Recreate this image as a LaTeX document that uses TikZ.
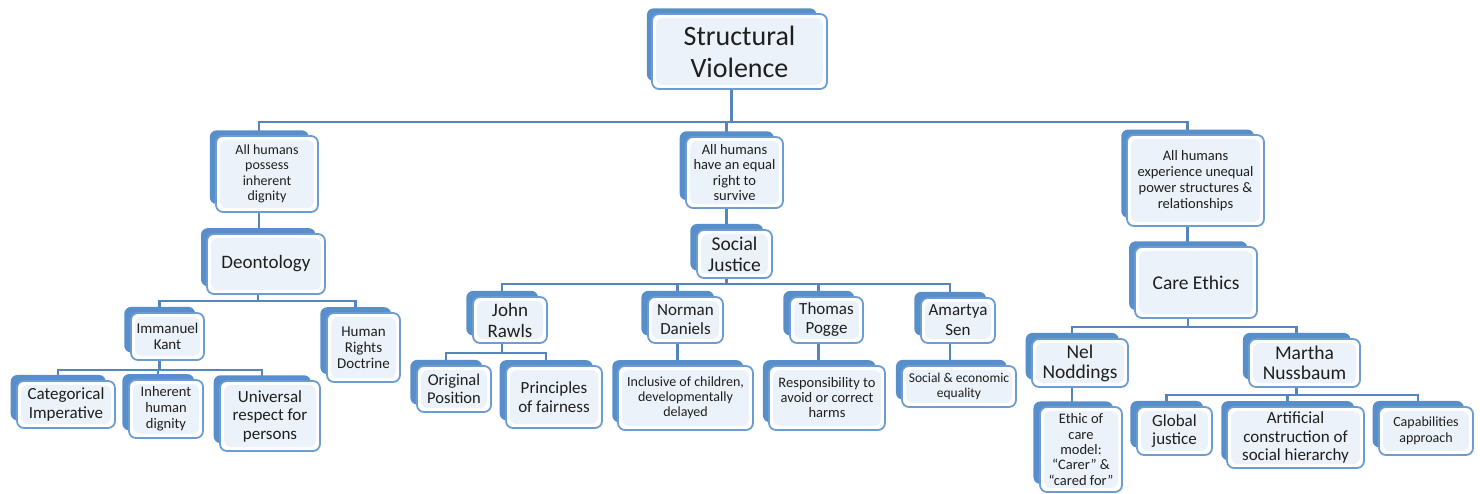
\documentclass[tikz,border=0pt]{standalone}
\usepackage{fontspec}
\setmainfont{Carlito}
\usetikzlibrary{shadows,backgrounds}
\definecolor{ShadeClr}{RGB}{88,142,202}
\definecolor{EdgeClr}{RGB}{108,156,208}
\definecolor{FaceClr}{RGB}{236,242,249}
\definecolor{LinkClr}{RGB}{86,132,188}

\begin{document}
\begin{tikzpicture}[x=1pt,y=-1pt,
  card/.style={draw=EdgeClr,line width=1.8pt,fill=white,rounded corners=7pt,
    inner sep=1pt,align=center,text=black!88,
    general shadow={shadow xshift=-8pt,shadow yshift=7pt,shadow scale=.97,fill=ShadeClr,draw=none},
    path picture={\fill[FaceClr] ([shift={(4pt,-4pt)}]path picture bounding box.north west)
      rectangle ([shift={(-4pt,4pt)}]path picture bounding box.south east);}},
  link/.style={draw=LinkClr,line width=2.2pt}]
\useasboundingbox (0,0) rectangle (1480,494);

% top and the three claims
\node[card,minimum width=175pt,minimum height=75pt,font=\fontsize{28}{32}\selectfont] (top) at (739.5,51.5) {Structural\\Violence};
\node[card,minimum width=102pt,minimum height=76pt,font=\fontsize{14}{15.5}\selectfont] (dign) at (267,174) {All humans\\possess\\inherent\\dignity};
\node[card,minimum width=97pt,minimum height=71pt,font=\fontsize{14.5}{15.5}\selectfont] (surv) at (734.5,172.5) {All humans\\have an equal\\right to\\survive};
\node[card,minimum width=137pt,minimum height=91pt,font=\fontsize{14.5}{16}\selectfont] (powr) at (1195.5,180.5) {All humans\\experience unequal\\power structures \&\\relationships};

% theories
\node[card,minimum width=118pt,minimum height=60pt,font=\fontsize{19}{21}\selectfont] (deon) at (266,264) {Deontology};
\node[card,minimum width=75pt,minimum height=48pt,font=\fontsize{19.5}{21}\selectfont] (sjus) at (734.5,254) {Social\\Justice};
\node[card,minimum width=122pt,minimum height=71pt,font=\fontsize{19.5}{21}\selectfont] (care) at (1196,282.5) {Care Ethics};

% deontology branch
\node[card,minimum width=73pt,minimum height=47pt,font=\fontsize{15}{16.5}\selectfont] (kant) at (167.5,336.5) {Immanuel\\Kant};
\node[card,minimum width=73pt,minimum height=69pt,font=\fontsize{15}{16}\selectfont] (hrd) at (363.5,347.5) {Human\\Rights\\Doctrine};
\node[card,minimum width=98pt,minimum height=47pt,font=\fontsize{17}{19}\selectfont] (cat) at (66,404.5) {Categorical\\Imperative};
\node[card,minimum width=74pt,minimum height=58pt,font=\fontsize{14.5}{16}\selectfont] (ihd) at (166,409) {Inherent\\human\\dignity};
\node[card,minimum width=100pt,minimum height=70pt,font=\fontsize{17}{18.5}\selectfont] (urp) at (270,416) {Universal\\respect for\\persons};

% social justice branch
\node[card,minimum width=74pt,minimum height=46pt,font=\fontsize{19}{21}\selectfont] (rawl) at (510,320) {John\\Rawls};
\node[card,minimum width=75pt,minimum height=46pt,font=\fontsize{17}{19}\selectfont] (dan) at (685.5,320) {Norman\\Daniels};
\node[card,minimum width=73pt,minimum height=46pt,font=\fontsize{17}{19}\selectfont] (pog) at (826.5,320) {Thomas\\Pogge};
\node[card,minimum width=74pt,minimum height=45pt,font=\fontsize{17}{20}\selectfont] (sen) at (958,320.5) {Amartya\\Sen};
\node[card,minimum width=74pt,minimum height=46pt,font=\fontsize{16.5}{18.5}\selectfont] (orig) at (454,389) {Original\\Position};
\node[card,minimum width=96pt,minimum height=62pt,font=\fontsize{17}{19}\selectfont] (fair) at (554,397) {Principles\\of fairness};
\node[card,minimum width=135pt,minimum height=64pt,font=\fontsize{14}{15}\selectfont] (incl) at (685.5,398) {Inclusive of children,\\developmentally\\delayed};
\node[card,minimum width=116pt,minimum height=64pt,font=\fontsize{14.5}{15}\selectfont] (resp) at (827,398) {Responsibility to\\avoid or correct\\harms};
\node[card,minimum width=114pt,minimum height=41pt,font=\fontsize{13.5}{15}\selectfont] (soc) at (959,386.5) {Social \& economic\\equality};

% care ethics branch
\node[card,minimum width=96pt,minimum height=48pt,font=\fontsize{19.5}{20}\selectfont] (nel) at (1080,363) {Nel\\Noddings};
\node[card,minimum width=111pt,minimum height=48pt,font=\fontsize{19.5}{20}\selectfont] (mart) at (1304.5,363) {Martha\\Nussbaum};
\node[card,minimum width=82pt,minimum height=85pt,font=\fontsize{14.5}{15.3}\selectfont] (ethic) at (1081,449.5) {Ethic of\\care\\model:\\“Carer” \&\\“cared for”};
\node[card,minimum width=75pt,minimum height=48pt,font=\fontsize{17}{18}\selectfont] (glob) at (1174.5,431) {Global\\justice};
\node[card,minimum width=137pt,minimum height=61pt,font=\fontsize{17}{18.5}\selectfont] (art) at (1295.5,437.5) {Artificial\\construction of\\social hierarchy};
\node[card,minimum width=94pt,minimum height=48pt,font=\fontsize{14}{16}\selectfont] (cap) at (1426,431) {Capabilities\\approach};

\begin{scope}[on background layer]
\fill[white] (0,0) rectangle (1480,494);
\draw[link] ([xshift=-8pt]top.south) -- ++(0,32) -| ([xshift=-8pt]dign.north);
\draw[link] ([xshift=-8pt]top.south) -- ++(0,32) -| ([xshift=-8pt]surv.north);
\draw[link] ([xshift=-8pt]top.south) -- ++(0,32) -| ([xshift=-8pt]powr.north);
\draw[link] ([xshift=-8pt]dign.south) -- ([xshift=-8pt]dign.south |- deon.north);
\draw[link] ([xshift=-8pt]surv.south) -- ([xshift=-8pt]surv.south |- sjus.north);
\draw[link] ([xshift=-8pt]powr.south) -- ([xshift=-8pt]powr.south |- care.north);
\draw[link] ([xshift=-8pt]deon.south) -- ++(0,6) -| ([xshift=-8pt]kant.north);
\draw[link] ([xshift=-8pt]deon.south) -- ++(0,6) -| ([xshift=-8pt]hrd.north);
\draw[link] ([xshift=-8pt]kant.south) -- ++(0,9) -| ([xshift=-8pt]cat.north);
\draw[link] ([xshift=-8pt]kant.south) -- ++(0,9) -| ([xshift=-8pt]ihd.north);
\draw[link] ([xshift=-8pt]kant.south) -- ++(0,9) -| ([xshift=-8pt]urp.north);
\draw[link] ([xshift=-8pt]sjus.south) -- ++(0,5) -| ([xshift=-8pt]rawl.north);
\draw[link] ([xshift=-8pt]sjus.south) -- ++(0,5) -| ([xshift=-8pt]dan.north);
\draw[link] ([xshift=-8pt]sjus.south) -- ++(0,5) -| ([xshift=-8pt]pog.north);
\draw[link] ([xshift=-8pt]sjus.south) -- ++(0,5) -| ([xshift=-8pt]sen.north);
\draw[link] ([xshift=-8pt]rawl.south) -- ++(0,9) -| ([xshift=-8pt]orig.north);
\draw[link] ([xshift=-8pt]rawl.south) -- ++(0,9) -| ([xshift=-8pt]fair.north);
\draw[link] ([xshift=-8pt]dan.south) -- ([xshift=-8pt]dan.south |- incl.north);
\draw[link] ([xshift=-8pt]pog.south) -- ([xshift=-8pt]pog.south |- resp.north);
\draw[link] ([xshift=-8pt]sen.south) -- ([xshift=-8pt]sen.south |- soc.north);
\draw[link] ([xshift=-8pt]care.south) -- ++(0,8) -| ([xshift=-8pt]nel.north);
\draw[link] ([xshift=-8pt]care.south) -- ++(0,8) -| ([xshift=-8pt]mart.north);
\draw[link] ([xshift=-8pt]nel.south) -- ([xshift=-8pt]nel.south |- ethic.north);
\draw[link] ([xshift=-8pt]mart.south) -- ++(0,7) -| ([xshift=-8pt]glob.north);
\draw[link] ([xshift=-8pt]mart.south) -- ++(0,7) -| ([xshift=-8pt]art.north);
\draw[link] ([xshift=-8pt]mart.south) -- ++(0,7) -| ([xshift=-8pt]cap.north);
\end{scope}

\end{tikzpicture}
\end{document}
